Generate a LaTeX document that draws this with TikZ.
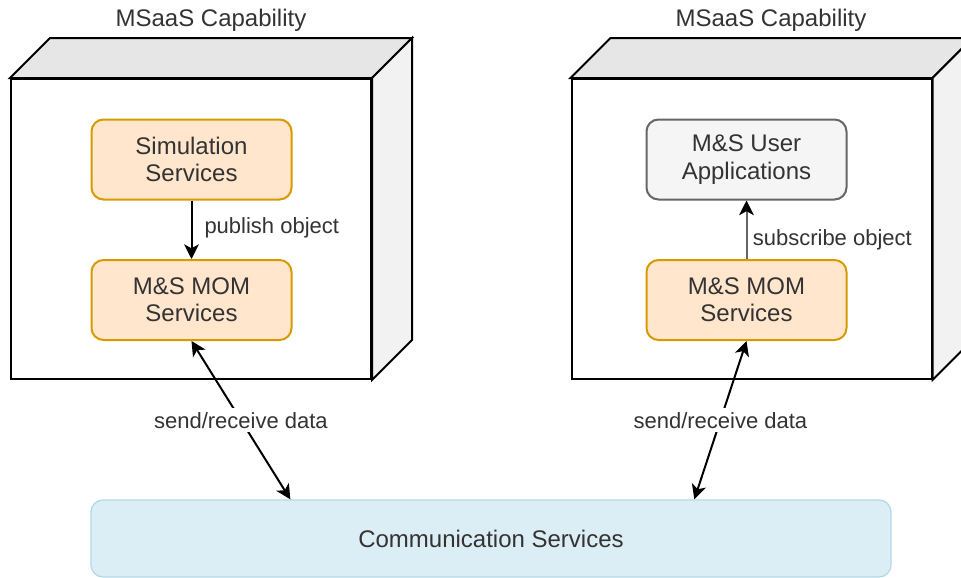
\documentclass[tikz,border=0pt]{standalone}
\usepackage{fontspec}
\setmainfont{Liberation Sans}
\usetikzlibrary{arrows.meta,calc}
\definecolor{txt}{HTML}{333333}
\definecolor{orfill}{HTML}{FFE6CC}
\definecolor{orline}{HTML}{D79B00}
\definecolor{grfill}{HTML}{F5F5F5}
\definecolor{grline}{HTML}{666666}
\definecolor{blfill}{RGB}{220,238,245}
\definecolor{blline}{RGB}{180,218,230}
\definecolor{topface}{HTML}{E6E6E6}
\definecolor{sideface}{HTML}{F2F2F2}
\begin{document}
\begin{tikzpicture}[x=0.75pt,y=-0.75pt,
  font=\fontsize{18}{20.5}\selectfont,
  cubefront/.style={draw=black, line width=1.5pt, fill=white,
    minimum width=270pt, minimum height=225pt, inner sep=0pt},
  face/.style={draw=black, line width=1.5pt, line join=miter},
  svc/.style={rounded corners=9pt, line width=1.5pt, minimum width=150pt,
    minimum height=60pt, align=center, text=txt, inner sep=0pt},
  orangebox/.style={svc, draw=orline, fill=orfill},
  greybox/.style={svc, draw=grline, fill=grfill},
  commbox/.style={rounded corners=9pt, line width=1pt, draw=blline, fill=blfill,
    minimum width=600pt, minimum height=57.75pt, text=txt, inner sep=0pt},
  captiontext/.style={text=txt},
  tip/.tip={Stealth[length=11pt,width=11pt,inset=3pt,color=black]},
  flow/.style={line width=1.5pt, -tip},
  twoway/.style={line width=1.5pt, tip-tip},
  lbl/.style={font=\fontsize{16.5}{19}\selectfont, text=txt, inner sep=0pt}
]
\useasboundingbox (0,0) rectangle (961,578);
\clip (0,0) rectangle (961,578);

% left capability node
\node[cubefront] (cubeL) at (191,229) {};
\draw[face, fill=topface] (cubeL.north west) -- ++(40,-40)
  -- ($(cubeL.north east)+(40,-40)$) -- (cubeL.north east) -- cycle;
\draw[face, fill=sideface] (cubeL.north east) -- ++(40,-40)
  -- ($(cubeL.south east)+(40,-40)$) -- (cubeL.south east) -- cycle;
\node[captiontext] (titleL) at (211,20) {MSaaS Capability};

% right capability node
\node[cubefront] (cubeR) at (751.5,229) {};
\draw[face, fill=topface] (cubeR.north west) -- ++(40,-40)
  -- ($(cubeR.north east)+(40,-40)$) -- (cubeR.north east) -- cycle;
\draw[face, fill=sideface] (cubeR.north east) -- ++(40,-40)
  -- ($(cubeR.south east)+(40,-40)$) -- (cubeR.south east) -- cycle;
\node[captiontext] (titleR) at (771,20) {MSaaS Capability};

% services
\node[orangebox] (sim)  at (191.5,159.5) {Simulation\\Services};
\node[orangebox] (momL) at (191.5,300)   {M\&S MOM\\Services};
\node[greybox]   (app)  at (746.5,159.5) {M\&S User\\Applications};
\node[orangebox] (momR) at (746.5,300)   {M\&S MOM\\Services};
\node[commbox]   (comm) at (491,538.5)   {Communication Services};

\coordinate (commL) at ($(comm.north west)+(200,0)$);
\coordinate (commR) at ($(comm.north west)+(604,0)$);

% connectors
\draw[flow] (sim.south) -- node[lbl, midway, anchor=west, xshift=9pt, yshift=1.5pt] {publish object} (momL.north);
\draw[flow, draw=grline] (momR.north) -- node[lbl, midway, anchor=west, xshift=4pt, yshift=-7.5pt] {subscribe object} (app.south);
\draw[twoway] (momL.south) -- node[lbl, midway, fill=white, inner sep=3pt] {send/receive data} (commL);
\draw[twoway] (momR.south) -- node[lbl, midway, fill=white, inner sep=3pt] {send/receive data} (commR);
\end{tikzpicture}
\end{document}
